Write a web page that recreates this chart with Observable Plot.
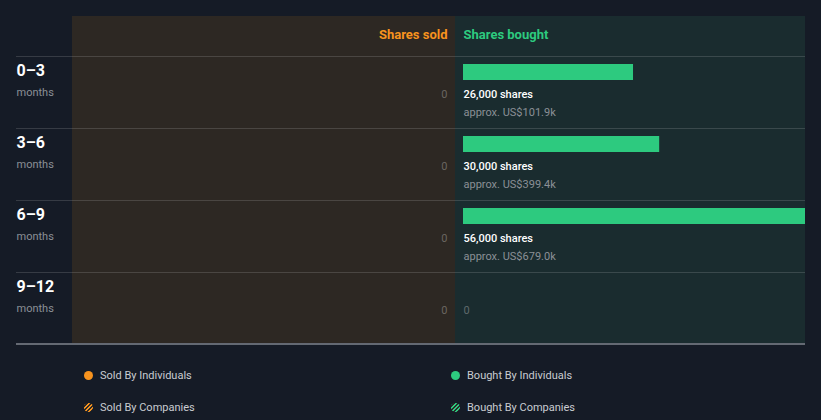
<!DOCTYPE html>
<html>
<head>
<meta charset="utf-8">
<script src="https://cdn.jsdelivr.net/npm/d3@7"></script>
<script src="https://cdn.jsdelivr.net/npm/@observablehq/plot@0.6"></script>
<style>
  html, body { margin: 0; padding: 0; background: #151b26; }
  #wrap { position: relative; width: 821px; height: 420px; overflow: hidden; font-family: Roboto, "Open Sans", sans-serif; }
  #chart svg { display: block; }
  .leg { position: absolute; font-size: 11px; color: #c9ccd1; line-height: 14px; white-space: nowrap; }
  .dot { position: absolute; width: 9px; height: 9px; border-radius: 50%; }
</style>
</head>
<body>
<div id="wrap">
  <div id="chart"></div>
</div>
<script>
// ---- data ----
const periods = ["0–3", "3–6", "6–9", "9–12"];
const sharesSold = [0, 0, 0, 0];
const sharesBought = [26000, 30000, 56000, 0];
const valueBought = ["US$101.9k", "US$399.4k", "US$679.0k", null];
const legendItems = ["Sold By Individuals", "Bought By Individuals", "Sold By Companies", "Bought By Companies"];

const rows = periods.map((p, i) => ({
  period: p,
  sold: sharesSold[i],
  bought: sharesBought[i],
  value: valueBought[i]
}));

const GREEN = "#2dca7f";
const ORANGE = "#f7931e";
const W = 821, H = 352;

const plot = Plot.plot({
  width: W,
  height: H,
  marginLeft: 16,
  marginRight: 16,
  marginTop: 0,
  marginBottom: 0,
  style: { background: "transparent", fontFamily: "Roboto, sans-serif", overflow: "visible" },
  x: { type: "linear", domain: [0, 52300], range: [463, 805], clamp: true, axis: null },
  y: { type: "band", domain: periods, range: [56, 344], padding: 0, axis: null },
  marks: [
    // row separators
    Plot.ruleY(periods, { y: d => d, dy: -36, stroke: "#ffffff", strokeOpacity: 0.14 }),
    // bottom axis line
    Plot.ruleY(periods.slice(-1), { y: d => d, dy: 35.5, stroke: "#b4b9c0", strokeWidth: 1 }),
    // bars bought
    Plot.barX(rows.filter(d => d.bought > 0), { x1: 0, x2: "bought", y: "period", insetTop: 8, insetBottom: 48, fill: GREEN }),
    // bought labels
    Plot.text(rows.filter(d => d.bought > 0), { x: 0, y: "period", text: d => d3.format(",")(d.bought) + " shares", textAnchor: "start", dy: 2, fill: "#ffffff", fontSize: 11, fontWeight: 500 }),
    Plot.text(rows.filter(d => d.bought > 0), { x: 0, y: "period", text: d => "approx. " + d.value, textAnchor: "start", dy: 20, fill: "#8b9096", fontSize: 11 }),
    Plot.text(rows.filter(d => d.bought === 0), { x: 0, y: "period", text: d => String(d.bought), textAnchor: "start", dy: 2, fill: "#5f6a6c", fontSize: 11 }),
    // sold zeros
    Plot.text(rows, { x: 0, y: "period", text: d => String(d.sold), textAnchor: "end", dx: -16, dy: 2, fill: "#6a6660", fontSize: 11 }),
    // row labels
    Plot.text(rows, { y: "period", frameAnchor: "left", text: "period", textAnchor: "start", dy: -22, fill: "#ffffff", fontSize: 16, fontWeight: 700 }),
    Plot.text(rows, { y: "period", frameAnchor: "left", text: () => "months", textAnchor: "start", dy: 0, fill: "#8b9096", fontSize: 11 }),
    // headers
    Plot.text(["Shares sold"], { x: 0, frameAnchor: "top", lineAnchor: "middle", text: d => d, textAnchor: "end", dx: -16, dy: 34, fill: ORANGE, fontSize: 13, fontWeight: 700 }),
    Plot.text(["Shares bought"], { x: 0, frameAnchor: "top", lineAnchor: "middle", text: d => d, textAnchor: "start", dy: 34, fill: GREEN, fontSize: 13, fontWeight: 700 })
  ]
});

// panel backgrounds behind marks
const svg = d3.select(plot);
const bg = svg.insert("g", ":first-child");
bg.append("rect").attr("x", 72).attr("y", 16).attr("width", 383).attr("height", 327).attr("fill", "#2d2823");
bg.append("rect").attr("x", 455).attr("y", 16).attr("width", 350).attr("height", 327).attr("fill", "#1a2c2f");

document.getElementById("chart").appendChild(plot);

// legend
const wrap = document.getElementById("wrap");
const legPos = [
  { x: 84, y: 371, tx: 100, color: ORANGE, striped: false },
  { x: 451, y: 371, tx: 467, color: GREEN, striped: false },
  { x: 84, y: 403, tx: 100, color: ORANGE, striped: true },
  { x: 451, y: 403, tx: 467, color: GREEN, striped: true }
];
legendItems.forEach((label, i) => {
  const p = legPos[i];
  const dot = document.createElement("div");
  dot.className = "dot";
  dot.style.left = p.x + "px";
  dot.style.top = p.y + "px";
  if (p.striped) {
    dot.style.background = `repeating-linear-gradient(135deg, ${p.color} 0 1.5px, #2a2a2a 1.5px 3px)`;
  } else {
    dot.style.background = p.color;
  }
  wrap.appendChild(dot);
  const t = document.createElement("div");
  t.className = "leg";
  t.style.left = p.tx + "px";
  t.style.top = (p.y - 2.5) + "px";
  t.textContent = label;
  wrap.appendChild(t);
});
</script>
</body>
</html>
